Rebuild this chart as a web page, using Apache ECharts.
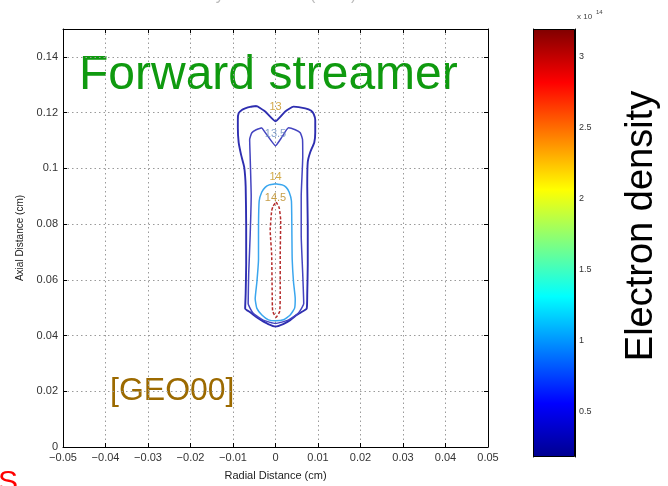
<!DOCTYPE html>
<html><head><meta charset="utf-8">
<script src="https://cdn.jsdelivr.net/npm/echarts@6/dist/echarts.min.js"></script>
<style>html,body{margin:0;padding:0;background:#fff;overflow:hidden}#c{width:668px;height:486px}</style>
</head><body><div id="c"></div>
<script>
// axis ranges and ticks
const xRange = [-0.05, 0.05];
const xStep = 0.01;
const yRange = [0, 0.15];
const yStep = 0.02;

// contour levels (log10 electron density)
const levelNames = ['13', '13.5', '14', '14.5'];

const c13X = [-0.00438,-0.00243,0.0,0.00229,0.00424,0.0070,0.00841,0.0090,0.00935,0.00935,0.00912,0.00817,0.00759,0.00747,0.00759,0.00759,0.00747,0.00735,0.00605,0.00488,0.00346,0.00181,0.0,-0.00172,-0.00337,-0.00478,-0.00596,-0.00714,-0.00702,-0.0069,-0.0069,-0.00702,-0.00737,-0.00808,-0.00867,-0.00886,-0.00886,-0.00867,-0.00784,-0.00714,-0.00596,-0.00438];
const c13Y = [0.12235,0.12039,0.11688,0.12039,0.12214,0.12154,0.12067,0.11944,0.11734,0.11278,0.10928,0.10578,0.10228,0.09352,0.07951,0.0655,0.05499,0.04974,0.04834,0.04729,0.04553,0.04413,0.04326,0.04413,0.04553,0.04694,0.04834,0.04974,0.05499,0.0655,0.07951,0.09352,0.10053,0.10473,0.10928,0.11454,0.11744,0.11979,0.12102,0.12154,0.12207,0.12235];

const c135X = [-0.0032,-0.00172,0,0.00158,0.00306,0.00464,0.00582,0.00636,0.00641,0.00605,0.00605,0.00641,0.00664,0.00535,0.00299,0,-0.0029,-0.00525,-0.00643,-0.00631,-0.00596,-0.00572,-0.00596,-0.00608,-0.00556,-0.00455,-0.0032];
const c135Y = [0.11454,0.11138,0.10813,0.11138,0.11454,0.11384,0.11278,0.11033,0.10403,0.09002,0.07601,0.062,0.05149,0.04799,0.04553,0.04431,0.04553,0.04799,0.05149,0.062,0.07601,0.09002,0.10403,0.11033,0.11278,0.11384,0.11454];

const c14X = [0,0.00158,0.00252,0.00323,0.00375,0.00386,0.00393,0.00424,0.00464,0.00448,0.00346,0.00188,0,-0.00165,-0.0032,-0.00438,-0.00478,-0.00438,-0.004,-0.004,-0.00384,-0.00325,-0.00243,-0.00148,0];
const c14Y = [0.09447,0.09405,0.09317,0.09142,0.08827,0.07601,0.06725,0.05919,0.05324,0.04974,0.04739,0.04564,0.04529,0.04564,0.04739,0.04974,0.05324,0.05919,0.06725,0.07601,0.08827,0.09142,0.09317,0.09405,0.09447];

const c145X = [0.00016,0.00087,0.00122,0.00111,0.00111,0.00099,0.00016,-0.00066,-0.00078,-0.0009,-0.00125,-0.0009,-0.00054,0.00016];
const c145Y = [0.08792,0.08581,0.08126,0.069,0.05499,0.04869,0.04658,0.04869,0.05499,0.069,0.07776,0.08476,0.08651,0.08792];

// contour label positions
const labelX = [0, 0, 0, 0];
const labelY = [0.1221, 0.1122, 0.0970, 0.0894];

// colorbar (x 10^14)
const cbRange = [0.18, 3.19];
const cbTicks = [0.5, 1, 1.5, 2, 2.5, 3];

const FONT = '"Liberation Sans", Arial, Helvetica, sans-serif';
const zip = (xs, ys) => xs.map((x, i) => [x, ys[i]]);
const fmtMinus = v => String(v).replace('-', '\u2212');

const lineColors = ['#2e2eb0', '#4444c0', '#3aa6ee', '#b52a2a'];
const lineWidths = [1.9, 1.5, 1.5, 1.5];
const lineTypes = ['solid', 'solid', 'solid', [3, 2]];
const labelColors = ['#c8921c', '#6a8cc0', '#c8961c', '#b8861c'];
const contours = [zip(c13X, c13Y), zip(c135X, c135Y), zip(c14X, c14Y), zip(c145X, c145Y)];

const contourSeries = contours.map((d, i) => ({
  type: 'line', name: levelNames[i], data: d, xAxisIndex: 0, yAxisIndex: 0,
  symbol: 'none', smooth: 0.15, z: 3,
  lineStyle: { color: lineColors[i], width: lineWidths[i], type: lineTypes[i] }
}));

const jet = {
  type: 'linear', x: 0, y: 1, x2: 0, y2: 0,
  colorStops: [
    { offset: 0, color: '#00008f' },
    { offset: 0.125, color: '#0000ff' },
    { offset: 0.375, color: '#00ffff' },
    { offset: 0.625, color: '#ffff00' },
    { offset: 0.875, color: '#ff0000' },
    { offset: 1, color: '#800000' }
  ]
};

const splitStyle = { show: true, lineStyle: { color: '#9a9a9a', width: 1, type: [1.5, 3] } };
const tickIn = { show: true, inside: true, length: 4, lineStyle: { color: '#000' } };
const axLine = { show: true, onZero: false, lineStyle: { color: '#000', width: 1 } };
const lbl = { color: '#333', fontSize: 11, fontFamily: FONT };

const chart = echarts.init(document.getElementById('c'), null, { renderer: 'canvas' });
chart.setOption({
  animation: false,
  backgroundColor: '#fff',
  grid: [
    { left: 63, right: 180, top: 29, bottom: 29, containLabel: false },
    { left: 533, width: 42, top: 29, bottom: 29, containLabel: false }
  ],
  xAxis: [
    { type: 'value', gridIndex: 0, min: xRange[0], max: xRange[1], interval: xStep, position: 'bottom',
      axisLine: axLine, axisTick: tickIn, splitLine: splitStyle,
      axisLabel: Object.assign({ margin: 5, formatter: fmtMinus }, lbl),
      name: 'Radial Distance (cm)', nameLocation: 'middle', nameGap: 23,
      nameTextStyle: { color: '#222', fontSize: 11, fontFamily: FONT } },
    { type: 'value', gridIndex: 0, min: xRange[0], max: xRange[1], interval: xStep, position: 'top',
      axisLine: axLine, axisTick: tickIn, splitLine: { show: false }, axisLabel: { show: false } },
    { type: 'category', gridIndex: 1, data: [''], axisLine: { show: false }, axisTick: { show: false },
      axisLabel: { show: false }, splitLine: { show: false } }
  ],
  yAxis: [
    { type: 'value', gridIndex: 0, min: yRange[0], max: yRange[1], interval: yStep, position: 'left',
      axisLine: axLine, axisTick: tickIn, splitLine: splitStyle,
      axisLabel: Object.assign({ margin: 5, showMaxLabel: false }, lbl),
      name: 'Axial Distance (cm)', nameLocation: 'middle', nameGap: 32,
      nameTextStyle: { color: '#222', fontSize: 10, fontFamily: FONT } },
    { type: 'value', gridIndex: 0, min: yRange[0], max: yRange[1], interval: yStep, position: 'right',
      axisLine: axLine, axisTick: tickIn, splitLine: { show: false }, axisLabel: { show: false } },
    { type: 'value', gridIndex: 1, min: cbRange[0], max: cbRange[1], position: 'right',
      axisLine: axLine, axisTick: Object.assign({ customValues: cbTicks }, tickIn), splitLine: { show: false },
      axisLabel: Object.assign({ customValues: cbTicks, margin: 4, formatter: v => String(v) }, lbl, { fontSize: 9 }) },
    { type: 'value', gridIndex: 1, min: cbRange[0], max: cbRange[1], position: 'left',
      axisLine: axLine, axisTick: Object.assign({ customValues: cbTicks }, tickIn), splitLine: { show: false },
      axisLabel: { show: false } }
  ],
  series: contourSeries.concat([
    { type: 'scatter', xAxisIndex: 0, yAxisIndex: 0, symbolSize: 1, z: 5,
      itemStyle: { color: 'transparent' },
      data: labelX.map((x, i) => ({ value: [x, labelY[i], levelNames[i]],
        label: { show: true, position: 'inside', formatter: levelNames[i], color: labelColors[i],
          fontSize: 11, fontFamily: FONT } })) },
    { type: 'bar', xAxisIndex: 2, yAxisIndex: 2, stack: 'cb', data: [cbRange[0]], barWidth: '100%',
      itemStyle: { color: 'transparent' }, silent: true },
    { type: 'bar', xAxisIndex: 2, yAxisIndex: 2, stack: 'cb', data: [cbRange[1] - cbRange[0]], barWidth: '100%',
      itemStyle: { color: jet, borderColor: '#000', borderWidth: 1 }, silent: true }
  ]),
  graphic: [
    { type: 'text', x: 110, y: -4, silent: true,
      style: { text: 'Electron density distribution (cm-3)', fill: '#bbbbbb', font: '16px ' + FONT, verticalAlign: 'middle' } },
    { type: 'text', x: 79, y: 76, silent: true,
      style: { text: 'Forward streamer', fill: '#0f9a0f', font: '48px ' + FONT, verticalAlign: 'middle', align: 'left' } },
    { type: 'text', x: 110, y: 391, silent: true,
      style: { text: '[GEO00]', fill: '#9c6a00', font: '32px ' + FONT, verticalAlign: 'middle', align: 'left' } },
    { type: 'text', x: 642, y: 226, rotation: Math.PI / 2, silent: true,
      style: { text: 'Electron density', fill: '#000', font: '38px ' + FONT, verticalAlign: 'middle', align: 'center' } },
    { type: 'text', x: 577, y: 17, silent: true,
      style: { text: 'x 10', fill: '#444', font: '8px ' + FONT, verticalAlign: 'middle', align: 'left' } },
    { type: 'text', x: 596, y: 12, silent: true,
      style: { text: '14', fill: '#444', font: '6px ' + FONT, verticalAlign: 'middle', align: 'left' } },
    { type: 'text', x: -2, y: 483, silent: true,
      style: { text: 'S', fill: '#ff0000', font: '30px ' + FONT, verticalAlign: 'middle', align: 'left' } }
  ]
});
</script>
</body></html>
